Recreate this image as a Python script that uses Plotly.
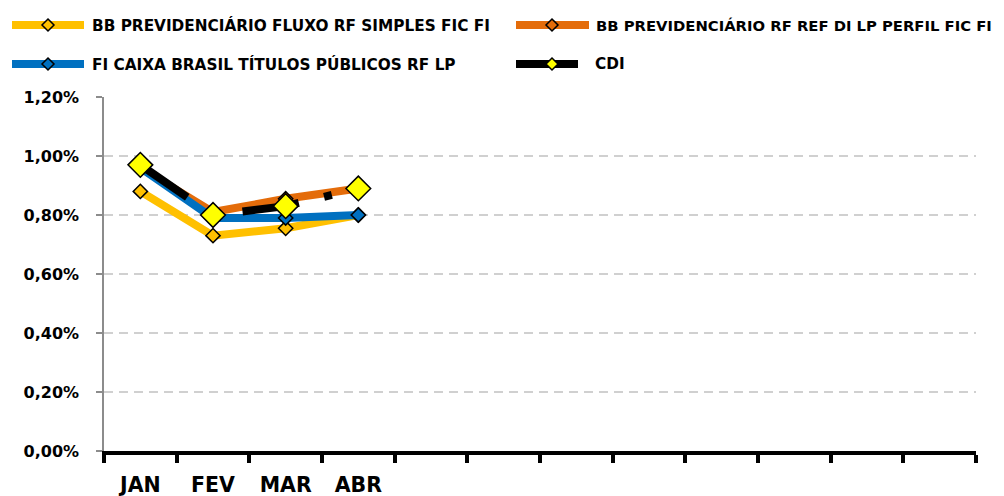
import plotly.graph_objects as go

# ---- data ----
all_months = ["JAN", "FEV", "MAR", "ABR", "MAI", "JUN", "JUL", "AGO", "SET", "OUT", "NOV", "DEZ"]
months = ["JAN", "FEV", "MAR", "ABR"]
fluxo = [0.88, 0.73, 0.755, 0.80]
perfil = [0.96, 0.81, 0.855, 0.89]
caixa = [0.96, 0.79, 0.79, 0.80]
cdi = [0.97, 0.80, 0.83, 0.89]
names = [
    "BB PREVIDENCIÁRIO FLUXO RF SIMPLES FIC FI",
    "BB PREVIDENCIÁRIO RF REF DI LP PERFIL FIC FI",
    "FI CAIXA BRASIL TÍTULOS PÚBLICOS RF LP",
    "CDI",
]
y_ticks = [0.0, 0.2, 0.4, 0.6, 0.8, 1.0, 1.2]
y_labels = [("%.2f%%" % v).replace(".", ",") for v in y_ticks]

W, H = 1004, 496
OFF = 8  # page body margin offset
FONT = "DejaVu Sans"
c_fluxo, c_perfil, c_caixa, c_cdi = "#FFC000", "#E46C0A", "#0070C0", "#000000"

x_idx = [all_months.index(m) for m in months]

fig = go.Figure()
series = [
    (names[0], fluxo, c_fluxo, c_fluxo, 11, "solid"),
    (names[1], perfil, c_perfil, c_perfil, 11, "solid"),
    (names[2], caixa, c_caixa, c_caixa, 11, "solid"),
    (names[3], cdi, c_cdi, "#FFFF00", 19, "57px,26px,8px,27px"),
]
for nm, vals, lc, mc, ms, dash in series:
    fig.add_trace(go.Scatter(
        x=x_idx, y=vals, name=nm, mode="lines+markers",
        line=dict(color=lc, width=8, dash=dash),
        marker=dict(symbol="diamond", size=ms, color=mc, line=dict(color="#000000", width=1.5)),
        showlegend=False,
    ))


def px(x):
    return (x - OFF) / W


def py(y):
    return 1 - (y - OFF) / H


# manual legend (page pixel positions)
leg = [
    (names[0], c_fluxo, c_fluxo, 12, 84, 48, 90, 25, 15.3),
    (names[1], c_perfil, c_perfil, 516, 589, 552, 594, 25, 14.8),
    (names[2], c_caixa, c_caixa, 12, 84, 48, 90, 64, 15.3),
    (names[3], c_cdi, "#FFFF00", 516, 578, 552, 593, 64, 15.3),
]
shapes = []
annotations = []
for nm, lc, mc, x0, x1, xm, xt, yy, fs in leg:
    shapes.append(dict(type="line", xref="paper", yref="paper", x0=px(x0), x1=px(x1), y0=py(yy), y1=py(yy),
                       line=dict(color=lc, width=8)))
    r = 6
    path = "M{},{} L{},{} L{},{} L{},{} Z".format(
        px(xm), py(yy - r), px(xm + r), py(yy), px(xm), py(yy + r), px(xm - r), py(yy))
    shapes.append(dict(type="path", xref="paper", yref="paper", path=path, fillcolor=mc,
                       line=dict(color="#000000", width=1.5)))
    annotations.append(dict(xref="paper", yref="paper", x=px(xt), y=py(yy), text=nm, showarrow=False,
                            xanchor="left", yanchor="middle",
                            font=dict(family=FONT, size=fs, color="#000000", weight="bold")))

fig.update_layout(
    template="none",
    width=W, height=H,
    margin=dict(l=0, r=0, t=0, b=0, pad=0),
    paper_bgcolor="white", plot_bgcolor="white",
    shapes=shapes, annotations=annotations,
    showlegend=False,
    xaxis=dict(
        automargin=False,
        domain=[(104 - OFF) / W, (976 - OFF) / W],
        range=[-0.5, 11.5],
        tickmode="array", tickvals=x_idx, ticktext=months,
        ticks="", showgrid=False, zeroline=False,
        showline=True, linecolor="#000000", linewidth=4,
        tickfont=dict(family=FONT, size=20.5, color="#000000", weight="bold"),
        ticklabelstandoff=12,
        minor=dict(tickmode="array", tickvals=[i - 0.5 for i in range(13)], ticks="outside",
                   ticklen=8, tickwidth=4, tickcolor="#000000", showgrid=False),
    ),
    yaxis=dict(
        automargin=False,
        domain=[1 - (451 - OFF) / H, 1 - (97 - OFF) / H],
        range=[0, 1.2],
        tickmode="array", tickvals=y_ticks, ticktext=y_labels,
        ticks="outside", ticklen=6, tickwidth=1.5, tickcolor="#8C8C8C",
        showline=True, linecolor="#8C8C8C", linewidth=1.5,
        showgrid=True, gridcolor="#D0D0D0", gridwidth=1.5, griddash="9px,6px",
        zeroline=False,
        tickfont=dict(family=FONT, size=16, color="#000000", weight="bold"),
        ticklabelstandoff=14,
    ),
)

fig.write_html("out.html")
